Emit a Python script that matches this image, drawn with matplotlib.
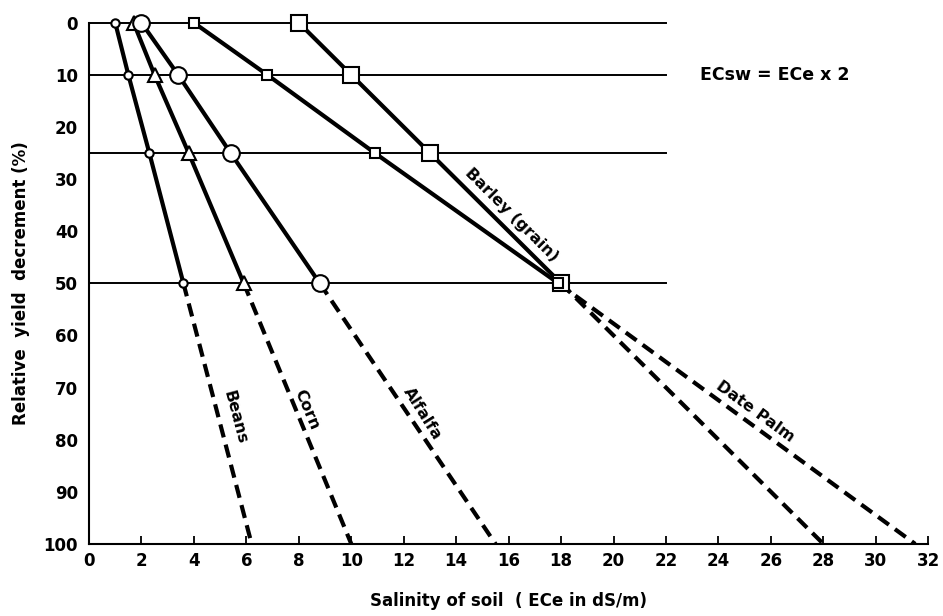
import numpy as np
import matplotlib.pyplot as plt

# relative yield decrement (%) at which each ECe value is read
decrement = [0, 10, 25, 50]
decrement_ext = [50, 100]

crops = ['Beans', 'Corn', 'Alfalfa', 'Barley (grain)', 'Date Palm']
ece_beans = [1.0, 1.5, 2.3, 3.6]
ece_corn = [1.7, 2.5, 3.8, 5.9]
ece_alfalfa = [2.0, 3.4, 5.4, 8.8]
ece_barley = [8.0, 10.0, 13.0, 18.0]
ece_datepalm = [4.0, 6.8, 10.9, 17.9]
# ECe at 100 % decrement (dashed extrapolation)
ece_max = [6.2, 10.0, 15.5, 28.0, 31.5]

series = [ece_beans, ece_corn, ece_alfalfa, ece_barley, ece_datepalm]
markers = ['o', '^', 'o', 's', 's']
msizes = [6, 10, 12, 12, 7]

fig = plt.figure(figsize=(9.43, 6.16), dpi=100)
ax = fig.add_axes([0.0944, 0.117, 0.89, 0.846])

for y in decrement:
    ax.plot([0, 22], [y, y], color='black', lw=1.4, zorder=1, clip_on=False)

for vals, emax, m, ms in zip(series, ece_max, markers, msizes):
    ax.plot([vals[-1], emax], decrement_ext, color='black', lw=3,
            ls=(0, (3.2, 1.8)), zorder=2)
    ax.plot(vals, decrement, color='black', lw=3, marker=m, ms=ms,
            mfc='white', mec='black', mew=1.5, zorder=3, clip_on=False)

font = dict(fontsize=11.5, fontweight='semibold', ha='center', va='center')
ax.text(5.55, 75.8, 'Beans', rotation=-75, **font)
ax.text(8.3, 74.3, 'Corn', rotation=-67, **font)
ax.text(12.7, 75, 'Alfalfa', rotation=-58, **font)
ax.text(16.1, 36.8, 'Barley (grain)', rotation=-45, **font)
ax.text(25.4, 74.7, 'Date Palm', rotation=-36, **font)
ax.text(23.3, 10, 'ECsw = ECe x 2', ha='left', va='center', fontsize=12.5, fontweight='bold')

ax.set_xlim(0, 32)
ax.set_ylim(100, 0)
ax.set_xticks(np.arange(0, 33, 2))
ax.set_yticks(np.arange(0, 101, 10))
ax.tick_params(axis='x', direction='in', length=6, width=1.3, labelsize=12, pad=6)
ax.tick_params(axis='y', length=0, labelsize=12, pad=8)
for lbl in ax.get_xticklabels() + ax.get_yticklabels():
    lbl.set_fontweight('bold')

ax.spines['top'].set_visible(False)
ax.spines['right'].set_visible(False)
ax.spines['left'].set_linewidth(1.5)
ax.spines['bottom'].set_linewidth(1.5)

ax.set_xlabel('Salinity of soil  ( ECe in dS/m)', fontsize=12, fontweight='bold', labelpad=16)
ax.set_ylabel('Relative  yield  decrement (%)', fontsize=12, fontweight='bold', labelpad=10)

plt.savefig('out.png', dpi=100)
